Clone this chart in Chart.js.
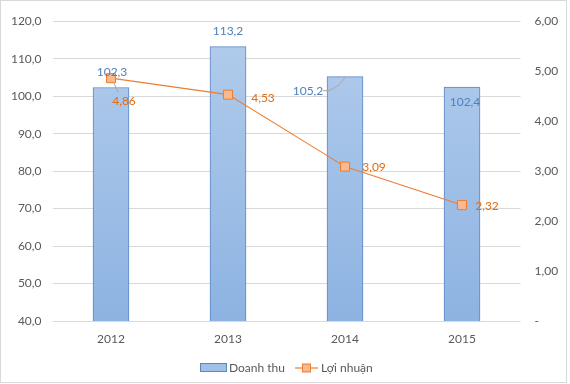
<!DOCTYPE html>
<html>
<head>
<meta charset="utf-8">
<script src="https://cdn.jsdelivr.net/npm/chart.js@4"></script>
<style>
html,body{margin:0;padding:0;background:#fff;}
#wrap{width:570px;height:384px;position:relative;}
</style>
</head>
<body>
<div id="wrap"><canvas id="c" width="570" height="384"></canvas></div>
<script>
const categories = ['2012', '2013', '2014', '2015'];
const doanhThu = [102.3, 113.2, 105.2, 102.4];
const loiNhuan = [4.86, 4.53, 3.09, 2.32];
const doanhThuLabels = ['102,3', '113,2', '105,2', '102,4'];
const loiNhuanLabels = ['4,86', '4,53', '3,09', '2,32'];
const leftTicks = [40, 50, 60, 70, 80, 90, 100, 110, 120];
const rightTicks = [0, 1, 2, 3, 4, 5, 6];

const FONT = 'Lato, "Open Sans", sans-serif';
const GREY = '#595959';
const BLUE_TXT = '#4f81bd';
const ORANGE = '#ed7d31';
const ORANGE_TXT = '#e46c0a';

function fmtLeft(v){ return v.toFixed(1).replace('.', ','); }
function fmtRight(v){ return v === 0 ? '-' : v.toFixed(2).replace('.', ','); }

const barLabelOffsets = [[1,-15],[0,-16],[-37,14],[3,15]];
const lineLabelOffsets = [[13,23],[35,3],[29,1],[25,1]];

const labelsPlugin = {
  id: 'labelsPlugin',
  afterDatasetsDraw(chart){
    const ctx = chart.ctx;
    const barMeta = chart.getDatasetMeta(1);
    const lineMeta = chart.getDatasetMeta(0);
    ctx.save();
    ctx.strokeStyle = '#a6a6a6';
    ctx.lineWidth = 1;
    const b2 = barMeta.data[2];
    ctx.beginPath();
    ctx.moveTo(b2.x - 22, b2.y + 14);
    ctx.lineTo(b2.x - 16, b2.y + 14);
    ctx.quadraticCurveTo(b2.x - 6, b2.y + 10, b2.x, b2.y + 1);
    ctx.stroke();
    const p0 = lineMeta.data[0];
    ctx.beginPath();
    ctx.moveTo(p0.x + 3, p0.y + 5);
    ctx.lineTo(p0.x + 7, p0.y + 14);
    ctx.stroke();

    ctx.font = '12px ' + FONT;
    ctx.textAlign = 'center';
    ctx.textBaseline = 'middle';
    barMeta.data.forEach((el, i) => {
      ctx.fillStyle = BLUE_TXT;
      ctx.fillText(doanhThuLabels[i], el.x + barLabelOffsets[i][0], el.y + barLabelOffsets[i][1]);
    });
    lineMeta.data.forEach((el, i) => {
      ctx.fillStyle = ORANGE_TXT;
      ctx.fillText(loiNhuanLabels[i], el.x + lineLabelOffsets[i][0], el.y + lineLabelOffsets[i][1]);
    });
    ctx.restore();
  },
  afterDraw(chart){
    const ctx = chart.ctx;
    ctx.save();
    const cy = 368;
    ctx.fillStyle = '#9fc0e8';
    ctx.strokeStyle = '#5b87c5';
    ctx.lineWidth = 1;
    ctx.fillRect(200.5, cy - 4.5, 26, 8);
    ctx.strokeRect(200.5, cy - 4.5, 26, 8);
    ctx.font = '12px ' + FONT;
    ctx.fillStyle = GREY;
    ctx.textAlign = 'left';
    ctx.textBaseline = 'middle';
    ctx.fillText('Doanh thu', 229, cy);
    ctx.strokeStyle = ORANGE;
    ctx.lineWidth = 1.2;
    ctx.beginPath();
    ctx.moveTo(295, cy); ctx.lineTo(318, cy); ctx.stroke();
    ctx.fillStyle = '#f8b98f';
    ctx.fillRect(302.5, cy - 4, 8, 8);
    ctx.lineWidth = 1;
    ctx.strokeRect(302.5, cy - 4, 8, 8);
    ctx.fillStyle = GREY;
    ctx.fillText('Lợi nhuận', 321, cy);
    ctx.strokeStyle = '#d9d9d9';
    ctx.lineWidth = 1;
    ctx.strokeRect(0.5, 0.5, 566, 382);
    ctx.restore();
  }
};

new Chart(document.getElementById('c'), {
  type: 'bar',
  data: {
    labels: categories,
    datasets: [
      {
        type: 'line',
        label: 'Lợi nhuận',
        data: loiNhuan,
        yAxisID: 'y1',
        borderColor: ORANGE,
        borderWidth: 1.1,
        pointStyle: 'rect',
        pointRadius: 6.4,
        pointBackgroundColor: '#f8b98f',
        pointBorderColor: ORANGE,
        pointBorderWidth: 1,
        tension: 0,
        order: 0
      },
      {
        type: 'bar',
        label: 'Doanh thu',
        data: doanhThu,
        yAxisID: 'y',
        barThickness: 36,
        borderColor: '#5b87c5',
        borderWidth: 1,
        borderSkipped: 'bottom',
        backgroundColor: (context) => {
          const ca = context.chart.chartArea;
          if (!ca) return '#9fc0e8';
          const g = context.chart.ctx.createLinearGradient(0, ca.top, 0, ca.bottom);
          g.addColorStop(0, '#b3cdec');
          g.addColorStop(1, '#8db3e2');
          return g;
        },
        order: 1
      }
    ]
  },
  options: {
    responsive: false,
    animation: false,
    layout: { padding: { top: 15, bottom: 0, left: 0, right: 0 } },
    plugins: { legend: { display: false }, tooltip: { enabled: false } },
    scales: {
      x: {
        grid: { display: false, drawTicks: false },
        border: { display: false },
        ticks: { color: GREY, font: { family: FONT, size: 12 }, padding: 11 },
        afterFit(scale){ scale.height = 63; }
      },
      y: {
        position: 'left',
        min: 40, max: 120,
        afterBuildTicks(scale){ scale.ticks = leftTicks.map(v => ({ value: v })); },
        ticks: { color: GREY, font: { family: FONT, size: 12 }, padding: 11, callback: (v) => fmtLeft(v) },
        grid: { color: '#d9d9d9', drawTicks: false },
        border: { display: false },
        afterFit(scale){ scale.width = 52.5; }
      },
      y1: {
        position: 'right',
        min: 0, max: 6,
        afterBuildTicks(scale){ scale.ticks = rightTicks.map(v => ({ value: v })); },
        ticks: { color: GREY, font: { family: FONT, size: 12 }, padding: 14, callback: (v) => fmtRight(v) },
        grid: { display: false, drawTicks: false },
        border: { display: false },
        afterFit(scale){ scale.width = 49.5; }
      }
    }
  },
  plugins: [labelsPlugin]
});
</script>
</body>
</html>
